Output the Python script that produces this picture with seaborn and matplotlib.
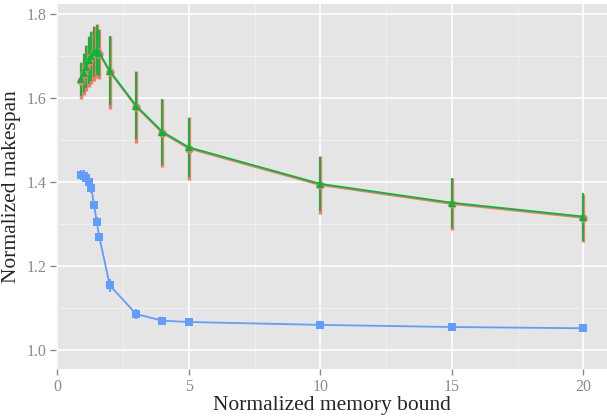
import numpy as np
import pandas as pd
import matplotlib
matplotlib.use("Agg")
import matplotlib.pyplot as plt
import seaborn as sns
from matplotlib.ticker import MultipleLocator

# memory bounds (shared by all three series)
bounds = [0.9, 1.0, 1.1, 1.2, 1.3, 1.4, 1.5, 1.6, 2, 3, 4, 5, 10, 15, 20]

red_y = [1.642, 1.657, 1.672, 1.687, 1.697, 1.707, 1.712, 1.705, 1.662, 1.579, 1.517, 1.480, 1.393, 1.348, 1.315]
red_err = [0.045, 0.05, 0.055, 0.06, 0.062, 0.065, 0.065, 0.06, 0.087, 0.085, 0.08, 0.075, 0.07, 0.063, 0.058]

green_y = [1.645, 1.66, 1.675, 1.69, 1.70, 1.71, 1.715, 1.708, 1.665, 1.582, 1.52, 1.483, 1.396, 1.351, 1.318]
green_err = [0.04, 0.045, 0.05, 0.055, 0.058, 0.06, 0.06, 0.055, 0.082, 0.08, 0.078, 0.07, 0.064, 0.06, 0.057]

blue_y = [1.418, 1.415, 1.41, 1.40, 1.385, 1.345, 1.306, 1.269, 1.154, 1.086, 1.07, 1.067, 1.06, 1.055, 1.052]
blue_err = [0.012, 0.015, 0.012, 0.01, 0.01, 0.01, 0.01, 0.01, 0.015, 0.012, 0.01, 0.008, 0.006, 0.005, 0.005]

series = ["A", "B", "C"]
colors = {"A": "#F8766D", "B": "#00BA38", "C": "#619CFF"}
markers = {"A": "o", "B": "^", "C": "s"}
bar_width = {"A": 2.4, "B": 1.3, "C": 1.5}

df = pd.concat([
    pd.DataFrame({"x": bounds, "y": red_y, "err": red_err, "series": "A"}),
    pd.DataFrame({"x": bounds, "y": green_y, "err": green_err, "series": "B"}),
    pd.DataFrame({"x": bounds, "y": blue_y, "err": blue_err, "series": "C"}),
])

sns.set_style("darkgrid", {"axes.facecolor": "#E5E5E5", "grid.color": "white"})
plt.rcParams["font.family"] = ["Liberation Serif", "DejaVu Serif"]

fig = plt.figure(figsize=(6.07, 4.16), dpi=100)
ax = fig.add_axes([0.093, 0.113, 0.907, 0.877])

for s in series:
    d = df[df.series == s]
    ax.vlines(d.x, d.y - d.err, d.y + d.err, color=colors[s], lw=bar_width[s], zorder=3)

sns.lineplot(data=df, x="x", y="y", hue="series", style="series", markers=markers,
             dashes=False, palette=colors, legend=False, errorbar=None,
             linewidth=1.3, markersize=6, markeredgewidth=0, ax=ax, zorder=4)

ax.set_xlim(-0.03, 20.9)
ax.set_ylim(0.955, 1.824)
ax.xaxis.set_major_locator(MultipleLocator(5))
ax.xaxis.set_minor_locator(MultipleLocator(2.5))
ax.yaxis.set_major_locator(MultipleLocator(0.2))
ax.yaxis.set_minor_locator(MultipleLocator(0.1))
ax.set_yticks([1.0, 1.2, 1.4, 1.6, 1.8])
ax.set_yticklabels(["1.0", "1.2", "1.4", "1.6", "1.8"])
ax.grid(which="major", color="white", lw=1.2)
ax.grid(which="minor", color="#F2F2F2", lw=0.6)
ax.set_axisbelow(True)
for sp in ax.spines.values():
    sp.set_visible(False)
ax.tick_params(which="major", length=4, width=1, color="#8A8A8A", labelcolor="#8A8A8A",
               labelsize=11.5, bottom=True, left=True, pad=3)
ax.tick_params(which="minor", length=0)

ax.set_xlabel("Normalized memory bound", fontsize=15.5, labelpad=1)
ax.set_ylabel("Normalized makespan", fontsize=15.5, labelpad=4)

fig.savefig("out.png", dpi=100)
